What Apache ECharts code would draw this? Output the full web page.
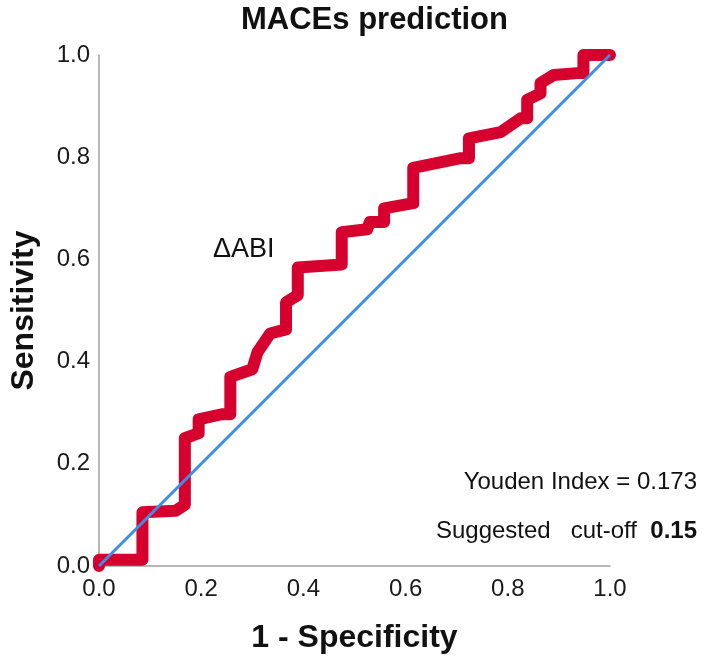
<!DOCTYPE html>
<html>
<head>
<meta charset="utf-8">
<script src="https://cdn.jsdelivr.net/npm/echarts@6/dist/echarts.min.js"></script>
<style>html,body{margin:0;padding:0;background:#fff}#c{width:709px;height:665px}</style>
</head>
<body>
<div id="c"></div>
<script>
// ROC curve for ΔABI (1 - Specificity, Sensitivity)
const fprValues = [0,0,0.085,0.085,0.15,0.168,0.168,0.195,0.195,0.24,0.257,0.257,0.30,0.31,0.335,0.366,0.366,0.389,0.389,0.475,0.475,0.525,0.53,0.558,0.558,0.615,0.615,0.708,0.724,0.724,0.786,0.825,0.838,0.838,0.864,0.864,0.89,0.942,0.948,0.948,1];
const tprValues = [0,0.012,0.012,0.105,0.108,0.12,0.25,0.26,0.287,0.297,0.297,0.37,0.385,0.418,0.455,0.463,0.516,0.53,0.584,0.59,0.653,0.659,0.673,0.673,0.70,0.71,0.779,0.798,0.798,0.837,0.849,0.876,0.876,0.912,0.925,0.945,0.961,0.965,0.965,1.0,1];
const refX = [0, 1];
const refY = [0, 1];
const titleText = 'MACEs prediction';
const xName = '1 - Specificity';
const yName = 'Sensitivity';
const curveLabel = 'ΔABI';
const youdenText = 'Youden Index = 0.173';
const cutoffLabel = 'Suggested   cut-off  ';
const cutoffValue = '0.15';

const FF = "'Liberation Sans', Arial, sans-serif";
const chart = echarts.init(document.getElementById('c'), null, {renderer: 'canvas'});
const axisCommon = {
  type: 'value', min: 0, max: 1, interval: 0.2,
  axisLine: {show: true, lineStyle: {color: '#a0a0a0', width: 1.5}},
  axisTick: {show: false},
  splitLine: {show: false},
  axisLabel: {color: '#1a1a1a', fontSize: 24, fontFamily: FF, formatter: v => v.toFixed(1)},
  nameTextStyle: {color: '#111', fontSize: 32, fontWeight: 'bold', fontFamily: FF}
};
chart.setOption({
  backgroundColor: '#fff',
  animation: false,
  title: {text: titleText, left: 236, top: 0,
    textStyle: {fontSize: 31, fontWeight: 'bold', color: '#111', fontFamily: FF}},
  grid: {left: 97, right: 99, top: 55, bottom: 99},
  xAxis: Object.assign({}, axisCommon, {
    name: xName, nameLocation: 'middle', nameGap: 56,
    axisLabel: Object.assign({}, axisCommon.axisLabel, {margin: 11})
  }),
  yAxis: Object.assign({}, axisCommon, {
    name: yName, nameLocation: 'middle', nameGap: 59,
    axisLabel: Object.assign({}, axisCommon.axisLabel, {margin: 9})
  }),
  series: [
    {
      type: 'line', data: fprValues.map((x, i) => [x, tprValues[i]]),
      showSymbol: false, symbol: 'none',
      lineStyle: {color: '#d5002e', width: 12, join: 'round', cap: 'round'},
      z: 2
    },
    {
      type: 'line', data: refX.map((x, i) => [x, refY[i]]),
      showSymbol: false, symbol: 'none',
      lineStyle: {color: '#3d8fe3', width: 3},
      z: 3
    }
  ],
  graphic: [
    {type: 'text', left: 213, top: 236, style: {text: curveLabel, fontSize: 27, fontFamily: FF, fill: '#111'}},
    {type: 'text', right: 12, top: 470, style: {text: youdenText, fontSize: 24, fontFamily: FF, fill: '#111'}},
    {type: 'text', right: 12, top: 519, style: {
      text: '{n|' + cutoffLabel + '}{b|' + cutoffValue + '}',
      rich: {
        n: {fontSize: 24, fontFamily: FF, fill: '#111', color: '#111'},
        b: {fontSize: 24, fontFamily: FF, fontWeight: 'bold', fill: '#111', color: '#111'}
      }
    }}
  ]
});
</script>
</body>
</html>
